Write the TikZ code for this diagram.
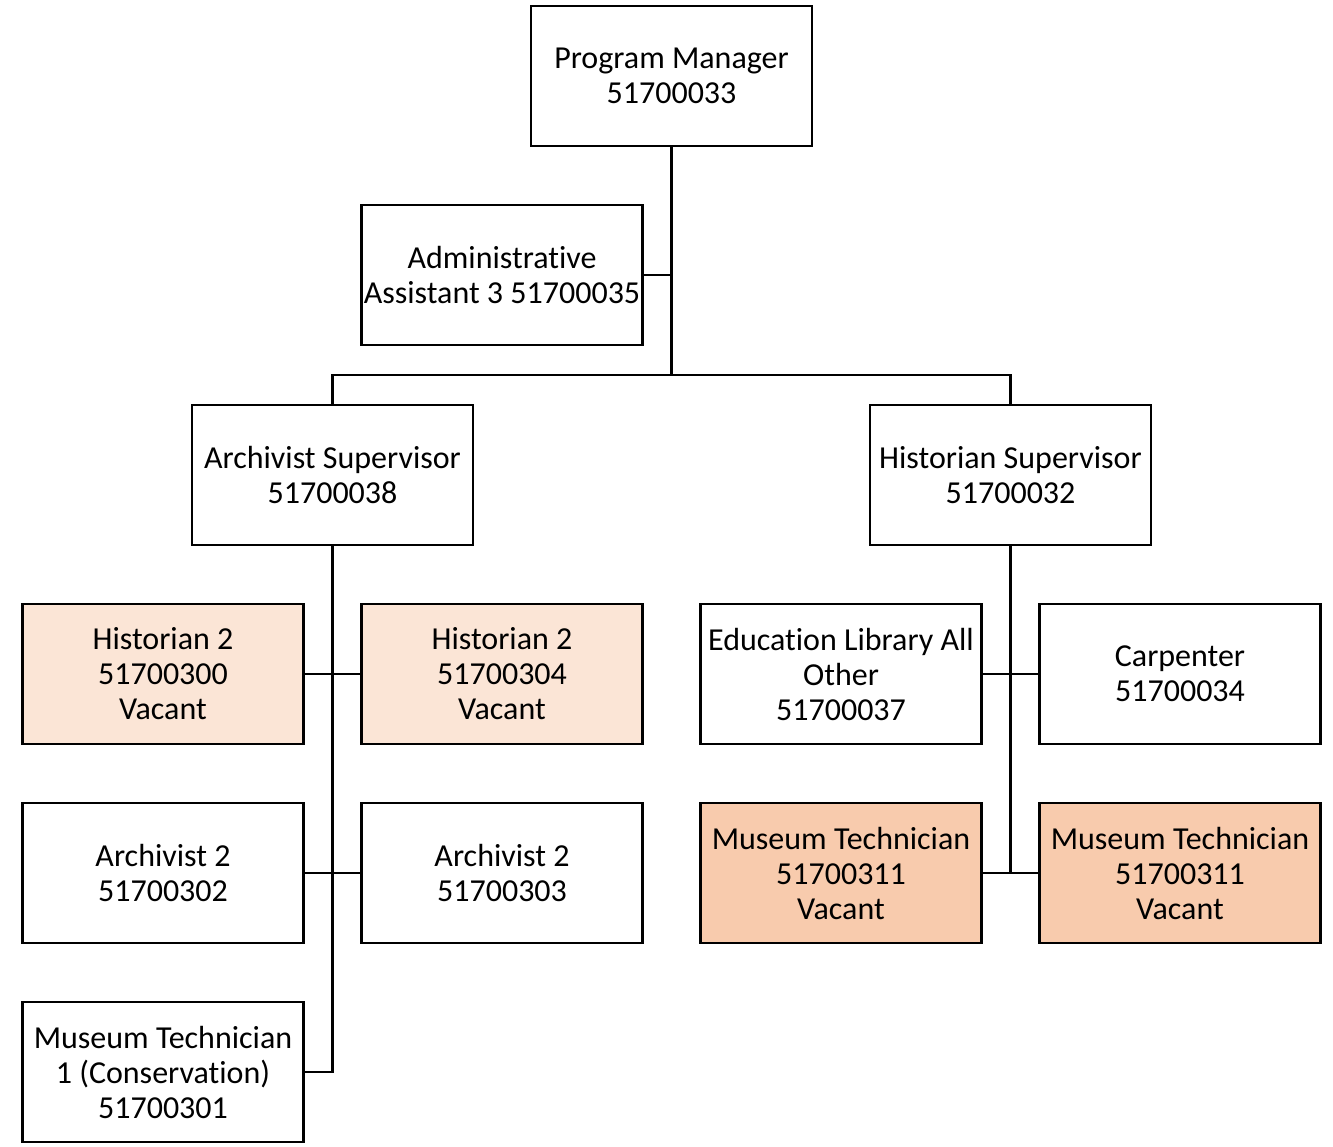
\documentclass[tikz,border=0pt]{standalone}
\usepackage{fontspec}
\setmainfont[Ligatures=NoCommon]{Carlito}
\definecolor{peachlight}{HTML}{FBE5D6}
\definecolor{peach}{HTML}{F8CBAD}
\begin{document}
\begin{tikzpicture}[x=1pt,y=-1pt,
  box/.style={draw=black, line width=2.5pt, fill=white, minimum width=281pt, minimum height=140pt,
    inner sep=1pt, align=center, font=\fontsize{32}{35}\selectfont, text=black},
  light/.style={box, fill=peachlight},
  dark/.style={box, fill=peach},
  conn/.style={draw=black, line width=2.5pt}]
\useasboundingbox (0,0) rectangle (1333,1146);
\node[box] (pm) at (671.5,76) {Program Manager\\51700033};
\node[box] (admin) at (502,275) {Administrative\\Assistant 3 51700035};
\node[box] (asup) at (332.5,475) {Archivist Supervisor\\51700038};
\node[box] (hsup) at (1010.5,475) {Historian Supervisor\\51700032};
\node[light] (h300) at (163,674) {Historian 2\\51700300\\Vacant};
\node[light] (h304) at (502,674) {Historian 2\\51700304\\Vacant};
\node[box] (a302) at (163,873) {Archivist 2\\51700302};
\node[box] (a303) at (502,873) {Archivist 2\\51700303};
\node[box] (mt1) at (163,1072) {Museum Technician\\1 (Conservation)\\51700301};
\node[box] (edu) at (841,674) {Education Library All\\Other\\51700037};
\node[box] (carp) at (1180,674) {Carpenter\\51700034};
\node[dark] (mtl) at (841,873) {Museum Technician\\51700311\\Vacant};
\node[dark] (mtr) at (1180,873) {Museum Technician\\51700311\\Vacant};
% junction coordinates
\coordinate (j1) at (pm.south |- 0,375);
\coordinate (ja) at (pm.south |- admin.east);
\coordinate (jb3) at (asup.south |- mt1.east);
\coordinate (jh2) at (hsup.south |- mtl.east);
% connectors
\draw[conn] (pm.south) -- (j1);
\draw[conn] (admin.east) -- (ja);
\draw[conn] (asup.north) |- (j1) -| (hsup.north);
\draw[conn] (asup.south) -- (jb3) -- (mt1.east);
\draw[conn] (h300.east) -- (h304.west);
\draw[conn] (a302.east) -- (a303.west);
\draw[conn] (hsup.south) -- (jh2);
\draw[conn] (edu.east) -- (carp.west);
\draw[conn] (mtl.east) -- (mtr.west);
\end{tikzpicture}
\end{document}
